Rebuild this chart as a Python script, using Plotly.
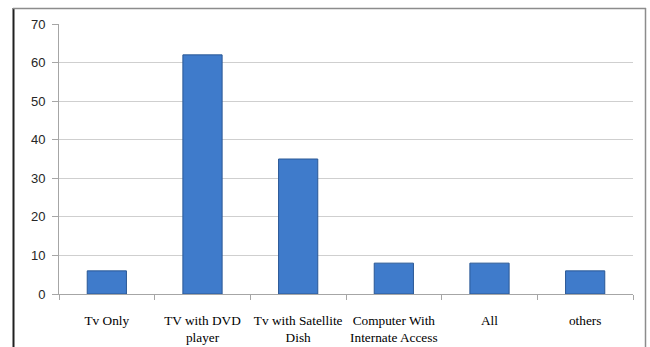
import plotly.graph_objects as go

categories = ["Tv Only", "TV with DVD<br>player", "Tv with Satellite<br>Dish",
              "Computer With<br>Internate Access", "All", "others"]
values = [6, 62, 35, 8, 8, 6]
y_ticks = [0, 10, 20, 30, 40, 50, 60, 70]

W, H = 650, 347
L, R, T, B = 59, 17, 24, 53


def px_x(px):
    return (px - L) / (W - L - R)


def px_y(py):
    return (H - B - py) / (H - T - B)


fig = go.Figure(go.Bar(
    x=categories,
    y=values,
    marker=dict(color="#3f7bcb", line=dict(color="#2a5895", width=1)),
    width=0.41,
    hoverinfo="x+y",
))

fig.update_layout(
    width=W, height=H,
    margin=dict(l=L, r=R, t=T, b=B, autoexpand=False),
    paper_bgcolor="white",
    plot_bgcolor="white",
    showlegend=False,
    xaxis=dict(
        showline=True, linecolor="#a6a6a6", linewidth=1,
        ticks="outside", tickson="boundaries", ticklen=5, tickcolor="#a6a6a6",
        showgrid=False, tickangle=0, automargin=False,
        tickfont=dict(family="Liberation Serif", size=13.3, color="#000000"),
        ticklabelstandoff=14,
    ),
    yaxis=dict(
        range=[0, 70], tickvals=y_ticks, automargin=False,
        showline=True, linecolor="#a6a6a6", linewidth=1,
        ticks="outside", ticklen=6, tickcolor="#a6a6a6",
        showgrid=True, gridcolor="#cfcfcf", gridwidth=1,
        zeroline=False,
        tickfont=dict(family="Liberation Sans", size=13, color="#262626"),
        ticklabelstandoff=4,
    ),
)

# outer chart frame
fig.add_shape(type="line", xref="paper", yref="paper",
              x0=px_x(13.5), x1=px_x(13.5), y0=px_y(8), y1=px_y(350),
              line=dict(color="#202020", width=2))
fig.add_shape(type="line", xref="paper", yref="paper",
              x0=px_x(13), x1=px_x(646), y0=px_y(8.5), y1=px_y(8.5),
              line=dict(color="#8c8c8c", width=1.5))
fig.add_shape(type="line", xref="paper", yref="paper",
              x0=px_x(645.5), x1=px_x(645.5), y0=px_y(8), y1=px_y(350),
              line=dict(color="#8c8c8c", width=1.5))

fig.write_html("out.html")
